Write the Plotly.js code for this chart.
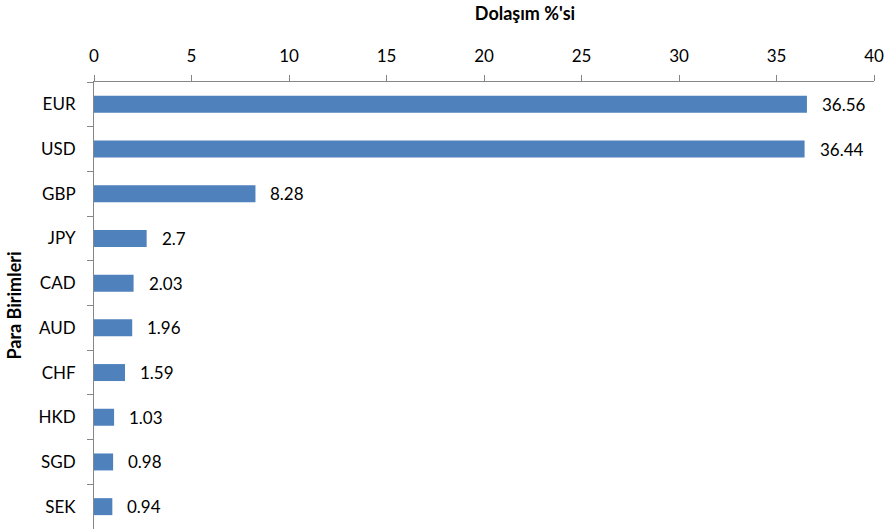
<!DOCTYPE html>
<html>
<head>
<meta charset="utf-8">
<script src="https://cdn.plot.ly/plotly-3.0.1.min.js"></script>
<style>body{margin:0;padding:0;}#chart{width:892px;height:529px;}</style>
</head>
<body>
<div id="chart"></div>
<script>
const currencies = ["EUR","USD","GBP","JPY","CAD","AUD","CHF","HKD","SGD","SEK"];
const shares = [36.56, 36.44, 8.28, 2.7, 2.03, 1.96, 1.59, 1.03, 0.98, 0.94];
const xTicks = [0,5,10,15,20,25,30,35,40];

const fontFam = "Lato, 'Open Sans', sans-serif";

const trace = {
  type: 'bar',
  orientation: 'h',
  x: shares,
  y: currencies,
  width: 0.38,
  marker: {color: '#4F81BD', line: {width: 0}},
  hoverinfo: 'none'
};

const annotations = currencies.map((c, i) => ({
  x: shares[i], y: c, xref: 'x', yref: 'y',
  text: String(shares[i]), showarrow: false,
  xanchor: 'left', xshift: 13,
  font: {family: fontFam, size: 17, color: '#000'}
}));

const layout = {
  width: 892, height: 529,
  margin: {l: 94, r: 18, t: 82, b: 0},
  paper_bgcolor: '#fff', plot_bgcolor: '#fff',
  showlegend: false,
  title: {
    text: "<b>Dolaşım %'si</b>",
    font: {family: fontFam, size: 18, color: '#000'},
    x: 525 / 892, xref: 'container', xanchor: 'center',
    y: 1 - 14 / 529, yref: 'container', yanchor: 'middle'
  },
  xaxis: {
    side: 'top', range: [0, 40], tickvals: xTicks, ticktext: xTicks.map(String),
    showgrid: false, zeroline: false,
    showline: true, linecolor: '#868686', linewidth: 1,
    ticks: 'outside', ticklen: 6, tickcolor: '#868686',
    ticklabelstandoff: 6,
    tickfont: {family: fontFam, size: 17, color: '#000'}
  },
  yaxis: {
    autorange: 'reversed', type: 'category',
    showgrid: false, zeroline: false,
    showline: true, linecolor: '#868686', linewidth: 1,
    ticks: 'outside', ticklen: 6, tickcolor: '#868686', tickson: 'boundaries',
    tickfont: {family: fontFam, size: 17, color: '#000'},
    ticklabelstandoff: 14,
    title: {text: '<b>Para Birimleri</b>', font: {family: fontFam, size: 18, color: '#000'}, standoff: 12}
  },
  annotations: annotations
};

Plotly.newPlot('chart', [trace], layout, {staticPlot: true});
</script>
</body>
</html>
